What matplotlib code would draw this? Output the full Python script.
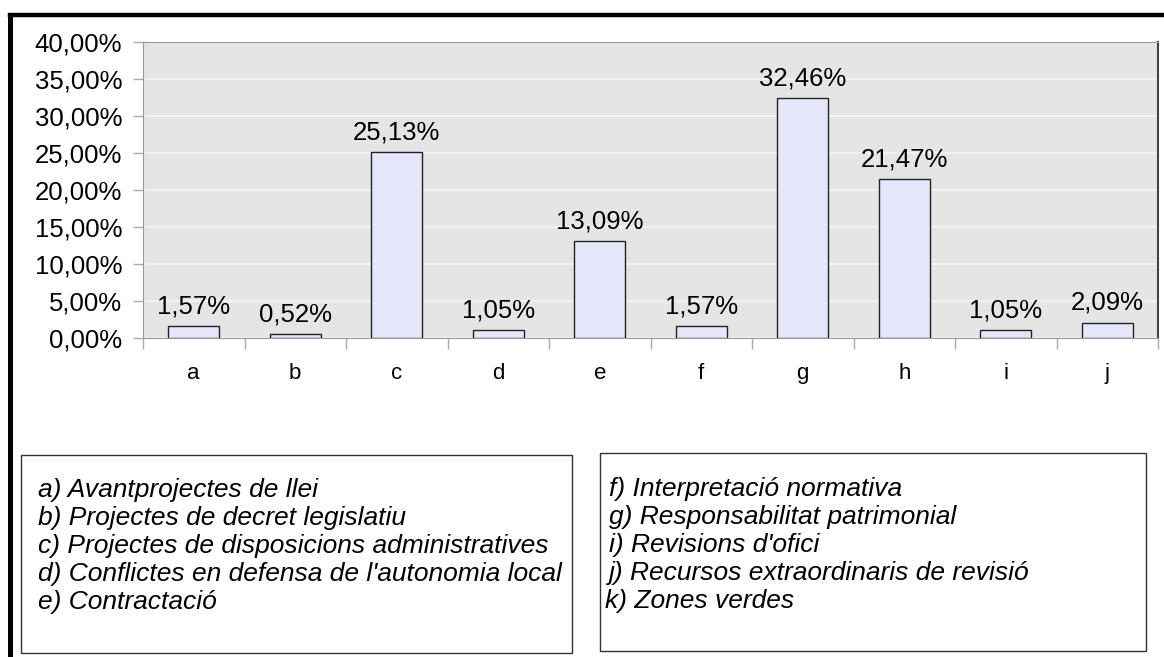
import matplotlib
matplotlib.use("Agg")
import matplotlib.pyplot as plt
from matplotlib.patches import Rectangle
from matplotlib.lines import Line2D
from matplotlib.ticker import FuncFormatter, FixedLocator

# data
categories = ['a', 'b', 'c', 'd', 'e', 'f', 'g', 'h', 'i', 'j']
values = [1.57, 0.52, 25.13, 1.05, 13.09, 1.57, 32.46, 21.47, 1.05, 2.09]

legend_left = [
    "a) Avantprojectes de llei",
    "b) Projectes de decret legislatiu",
    "c) Projectes de disposicions administratives",
    "d) Conflictes en defensa de l'autonomia local",
    "e) Contractació",
]
legend_right = [
    "f) Interpretació normativa",
    "g) Responsabilitat patrimonial",
    "i) Revisions d'ofici",
    "j) Recursos extraordinaris de revisió",
    "k) Zones verdes",
]

plt.rcParams['font.family'] = ['Liberation Sans', 'DejaVu Sans']

W, H = 1164, 657
fig = plt.figure(figsize=(W / 100, H / 100), dpi=100)

# axes placed in pixel coords
left, right, top, bottom = 143, 1158, 42, 338
ax = fig.add_axes([left / W, 1 - bottom / H, (right - left) / W, (bottom - top) / H])
ax.set_facecolor('#e5e5e5')

x = list(range(len(categories)))
bars = ax.bar(x, values, width=0.5, color='#e6e6fa', edgecolor='#222222',
              linewidth=1.0, zorder=3)

ax.set_xlim(-0.5, len(categories) - 0.5)
ax.set_ylim(0, 40)
ax.set_yticks(range(0, 41, 5))
ax.yaxis.set_major_formatter(FuncFormatter(lambda v, p: ('%.2f%%' % v).replace('.', ',')))
ax.yaxis.grid(True, color='#f4f4f4', linewidth=1.2, zorder=0)
ax.set_axisbelow(True)

ax.set_xticks(x)
ax.set_xticklabels(categories)
ax.xaxis.set_minor_locator(FixedLocator([i - 0.5 for i in range(len(categories) + 1)]))
ax.tick_params(axis='x', which='major', length=0, pad=18, labelsize=16)
ax.tick_params(axis='x', which='minor', length=8, width=1, color='#aaaaaa')
ax.tick_params(axis='y', length=7, width=1, color='#aaaaaa', pad=8, labelsize=18.5)

for s in ['left', 'top', 'bottom']:
    ax.spines[s].set_color('#999999')
ax.spines['right'].set_color('#444444')
ax.spines['right'].set_linewidth(1.5)

for b, v in zip(bars, values):
    ax.annotate(('%.2f%%' % v).replace('.', ','),
                (b.get_x() + b.get_width() / 2, v),
                xytext=(0, 5.5), textcoords='offset points',
                ha='center', va='bottom', fontsize=18.5)

# thick outer frame (top and left visible)
fig.add_artist(Line2D([10.5 / W, 10.5 / W], [0, 1 - 15 / H], color='black',
                      linewidth=3.6, transform=fig.transFigure,
                      solid_capstyle='projecting'))
fig.add_artist(Line2D([10.5 / W, 1], [1 - 15 / H, 1 - 15 / H], color='black',
                      linewidth=3.2, transform=fig.transFigure,
                      solid_capstyle='projecting'))


def legend_box(x0, y0, x1, y1, lines, tx, ty, indent=None):
    fig.add_artist(Rectangle((x0 / W, 1 - y1 / H), (x1 - x0) / W, (y1 - y0) / H,
                             transform=fig.transFigure, facecolor='white',
                             edgecolor='#333333', linewidth=1.0))
    for i, t in enumerate(lines):
        xx = tx
        if indent is not None:
            xx = indent[i]
        fig.text(xx / W, 1 - (ty + i * 28) / H, t, fontsize=19, style='italic',
                 ha='left', va='center')


legend_box(21, 455, 572, 653, legend_left, 38, 490)
legend_box(600, 453, 1146, 651, legend_right, 609, 489,
           indent=[609, 609, 609, 609, 605])

fig.savefig('out.png', dpi=100)
